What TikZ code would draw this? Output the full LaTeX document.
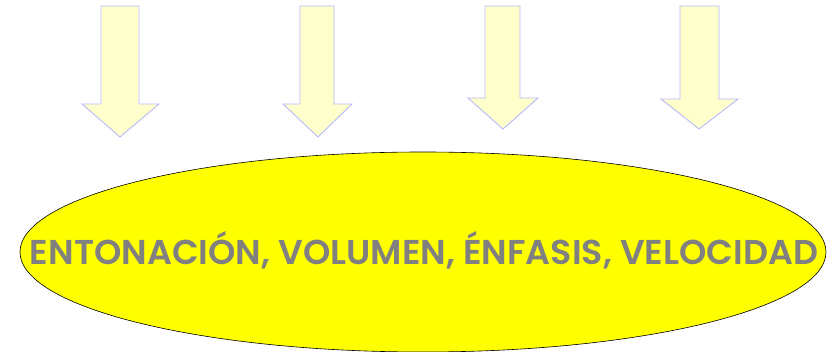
\documentclass[tikz,border=0pt]{standalone}
\usepackage{fontspec}
\usepackage{graphicx}
\newfontfamily\labelfont[UprightFont={* SemiBold}]{Poppins}
\definecolor{arrowfill}{HTML}{FFFFCC}
\definecolor{arrowline}{HTML}{B8B8FF}
\definecolor{txtgray}{HTML}{808080}
\definecolor{ellfill}{RGB}{255,255,0}
\tikzset{
  downarrow/.style={fill=arrowfill, draw=arrowline, line width=0.9pt, line join=miter},
  bigellipse/.style={ellipse, fill=ellfill, draw=black, line width=0.6pt, minimum width=806pt, minimum height=200pt, inner sep=0pt},
}
\usetikzlibrary{shapes.geometric}
\begin{document}
\begin{tikzpicture}[x=1pt,y=-1pt]
\useasboundingbox (0,0) rectangle (838,352);
\draw[downarrow] (101,6) -- (139,6) -- (139,104) -- (159,104) -- (120,137) -- (82,104) -- (101,104) -- cycle;
\draw[downarrow] (300,6) -- (334,6) -- (334,104) -- (352,104) -- (318,137) -- (283,104) -- (300,104) -- cycle;
\draw[downarrow] (485,6) -- (520,6) -- (520,98) -- (538,98) -- (503,129) -- (468,98) -- (485,98) -- cycle;
\draw[downarrow] (680,6) -- (719,6) -- (719,99) -- (738,99) -- (699,129) -- (661,99) -- (680,99) -- cycle;
\node[bigellipse] (main) at (423,252) {};
\node[text=txtgray, inner sep=0pt, anchor=base] (label) at (424,265)
  {\resizebox{788pt}{33pt}{\labelfont ENTONACIÓN, VOLUMEN, ÉNFASIS, VELOCIDAD}};
\end{tikzpicture}
\end{document}
